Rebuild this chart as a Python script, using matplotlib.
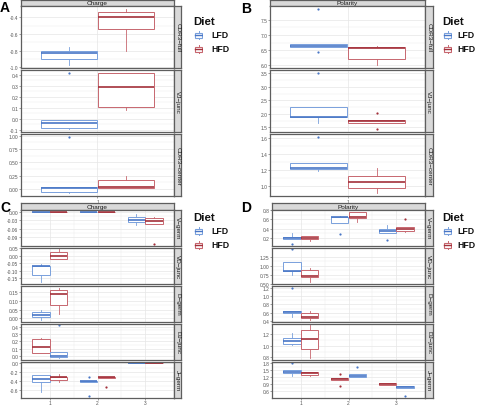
import matplotlib
matplotlib.use("Agg")
import matplotlib.pyplot as plt
from matplotlib.patches import Rectangle
from matplotlib.lines import Line2D
from matplotlib.ticker import FixedLocator

plt.rcParams["font.family"] = ["Liberation Sans", "DejaVu Sans"]

W, H, DPI = 479, 406, 100
fig = plt.figure(figsize=(W / DPI, H / DPI), dpi=DPI)
fig.patch.set_facecolor("white")

# ---------------- data ----------------
DIETS = ["LFD", "HFD"]
# box tuple: (category, diet, dodge slot, whislo, q1, median, q3, whishi, outliers)

# Panel A - Charge
A_cdr3_full = [
    (1, "LFD", 0, -0.977, -0.906, -0.829, -0.800, -0.758, []),
    (1, "HFD", 1, -0.808, -0.544, -0.400, -0.338, -0.297, []),
]
A_vj_junc = [
    (1, "LFD", 0, -0.097, -0.088, -0.044, -0.011, -0.011, [0.42]),
    (1, "HFD", 1, 0.080, 0.107, 0.290, 0.420, 0.420, []),
]
A_cdr3_center = [
    (1, "LFD", 0, -0.076, -0.050, 0.013, 0.044, 0.044, [0.98]),
    (1, "HFD", 1, 0.013, 0.013, 0.032, 0.170, 0.240, []),
]
# Panel B - Polarity
B_cdr3_full = [
    (1, "LFD", 0, 6.61, 6.61, 6.64, 6.69, 6.69, [7.855, 6.45]),
    (1, "HFD", 1, 6.01, 6.21, 6.585, 6.62, 6.64, []),
]
B_vj_junc = [
    (1, "LFD", 0, 1.65, 1.875, 1.90, 2.25, 2.25, [3.52]),
    (1, "HFD", 1, 1.65, 1.65, 1.74, 1.775, 1.775, [2.04, 1.43]),
]
B_cdr3_center = [
    (1, "LFD", 0, 1.19, 1.218, 1.23, 1.294, 1.294, [1.62]),
    (1, "HFD", 1, 0.905, 0.965, 1.053, 1.124, 1.23, []),
]
# Panel C - Charge by position
C_v_germ = [
    (1, "LFD", 0, 0, 0, 0, 0, 0, []),
    (1, "HFD", 1, 0, 0, 0, 0, 0, []),
    (2, "LFD", 0, 0, 0, 0, 0, 0, []),
    (2, "HFD", 1, 0, 0, 0, 0, 0, []),
    (3, "LFD", 0, -0.047, -0.038, -0.031, -0.018, -0.008, []),
    (3, "HFD", 1, -0.044, -0.044, -0.032, -0.022, -0.018, [-0.113]),
]
C_vd_junc = [
    (1, "LFD", 0, -0.178, -0.130, -0.071, -0.066, -0.055, []),
    (1, "HFD", 1, -0.024, -0.024, -0.001, 0.024, 0.045, []),
]
C_d_germ = [
    (1, "LFD", 0, -0.010, 0.006, 0.016, 0.034, 0.048, []),
    (1, "HFD", 1, 0.024, 0.076, 0.140, 0.166, 0.178, []),
]
C_dj_junc = [
    (1, "HFD", 0, 0.032, 0.032, 0.127, 0.225, 0.248, []),
    (1, "LFD", 1, -0.028, -0.010, 0.004, 0.056, 0.056, [0.42]),
]
C_j_germ = [
    (1, "LFD", 0, -0.65, -0.43, -0.35, -0.27, -0.27, []),
    (1, "HFD", 1, -0.41, -0.37, -0.32, -0.30, -0.24, []),
    (2, "LFD", 0, -0.42, -0.42, -0.40, -0.39, -0.39, [-0.32, -0.73]),
    (2, "HFD", 1, -0.325, -0.325, -0.31, -0.30, -0.30, [-0.53]),
    (3, "LFD", 0, 0, 0, 0, 0, 0, []),
    (3, "HFD", 1, 0, 0, 0, 0, 0, []),
]
# Panel D - Polarity by position
D_v_germ = [
    (1, "LFD", 0, 0.183, 0.183, 0.213, 0.234, 0.32, [0.077]),
    (1, "HFD", 1, 0.14, 0.176, 0.205, 0.255, 0.255, []),
    (2, "LFD", 0, 0.517, 0.517, 0.645, 0.645, 0.67, [0.29]),
    (2, "HFD", 1, 0.55, 0.64, 0.65, 0.766, 0.766, []),
    (3, "LFD", 0, 0.32, 0.32, 0.36, 0.40, 0.49, [0.16]),
    (3, "HFD", 1, 0.33, 0.36, 0.40, 0.44, 0.44, [0.60]),
]
D_vd_junc = [
    (1, "LFD", 0, 0.73, 0.84, 0.86, 1.095, 1.095, [1.46]),
    (1, "HFD", 1, 0.535, 0.67, 0.70, 0.87, 0.935, []),
]
D_d_germ = [
    (1, "LFD", 0, 0.506, 0.60, 0.62, 0.65, 0.65, [1.205]),
    (1, "HFD", 1, 0.43, 0.475, 0.506, 0.60, 0.64, []),
]
D_dj_junc = [
    (1, "LFD", 0, 1.02, 1.036, 1.084, 1.13, 1.23, []),
    (1, "HFD", 1, 0.79, 0.94, 1.11, 1.28, 1.36, []),
]
D_j_germ = [
    (1, "LFD", 0, 1.25, 1.37, 1.44, 1.51, 1.51, [1.80]),
    (1, "HFD", 1, 1.25, 1.31, 1.37, 1.40, 1.40, []),
    (2, "HFD", 0, 1.10, 1.10, 1.12, 1.145, 1.145, [1.34, 0.83]),
    (2, "LFD", 1, 1.20, 1.20, 1.24, 1.34, 1.34, [1.62]),
    (3, "HFD", 0, 0.88, 0.88, 0.91, 0.96, 0.96, []),
    (3, "LFD", 1, 0.74, 0.74, 0.78, 0.81, 0.81, [0.40]),
]

AB_facets = ["CDR3\u2212full", "VJ\u2212junc", "CDR3\u2212center"]
CD_facets = ["V\u2212germ", "VD\u2212junc", "D\u2212germ", "DJ\u2212junc", "J\u2212germ"]
A_ticks = [[-1.0, -0.8, -0.6, -0.4], [-0.1, 0.0, 0.1, 0.2, 0.3, 0.4], [0.0, 0.25, 0.5, 0.75, 1.0]]
A_fmt = ["{:.1f}", "{:.1f}", "{:.2f}"]
B_ticks = [[6.0, 6.5, 7.0, 7.5], [1.5, 2.0, 2.5, 3.0, 3.5], [1.0, 1.2, 1.4, 1.6]]
B_fmt = ["{:.1f}", "{:.1f}", "{:.1f}"]
C_ticks = [[-0.09, -0.06, -0.03, 0.0], [-0.15, -0.10, -0.05, 0.0, 0.05], [0.0, 0.05, 0.10, 0.15],
           [0.0, 0.1, 0.2, 0.3, 0.4], [-0.6, -0.4, -0.2, 0.0]]
C_fmt = ["{:.2f}", "{:.2f}", "{:.2f}", "{:.1f}", "{:.1f}"]
D_ticks = [[0.2, 0.4, 0.6, 0.8], [0.5, 0.75, 1.0, 1.25], [0.4, 0.6, 0.8, 1.0, 1.2],
           [0.8, 1.0, 1.2], [0.6, 0.9, 1.2, 1.5, 1.8]]
D_fmt = ["{:.1f}", "{:.2f}", "{:.1f}", "{:.1f}", "{:.1f}"]

# ---------------- style ----------------
EDGE = {"LFD": "#79A0DC", "HFD": "#C7676F"}
MED = {"LFD": "#4876C6", "HFD": "#A3303A"}
BORDER = "#5E5E5E"
GRID = "#E6E6E6"
TICKC = "#555555"


def px_axes(x0, y0, x1, y1):
    return fig.add_axes([x0 / W, 1 - y1 / H, (x1 - x0) / W, (y1 - y0) / H])


def draw_facet(ax, boxes, ticks, fmt, ncat, width, show_x):
    for (x, diet, slot, lo, q1, med, q3, hi, fl) in boxes:
        pos = x + (slot - 0.5) * width
        st = dict(whislo=lo, q1=q1, med=med, q3=q3, whishi=hi, fliers=fl)
        ax.bxp([st], positions=[pos], widths=width * 0.98, showcaps=False,
               patch_artist=True, manage_ticks=False,
               boxprops=dict(facecolor="white", edgecolor=EDGE[diet], linewidth=0.7),
               whiskerprops=dict(color=EDGE[diet], linewidth=0.6),
               medianprops=dict(color=MED[diet], linewidth=1.2, solid_capstyle="butt"),
               flierprops=dict(marker="o", markersize=1.6, markerfacecolor=MED[diet],
                               markeredgecolor="none"))
    vals = [v for b in boxes for v in b[3:8]] + [f for b in boxes for f in b[8]]
    lo, hi = min(vals), max(vals)
    pad = (hi - lo) * 0.05
    ax.set_ylim(lo - pad, hi + pad)
    ax.set_xlim(0.4, ncat + 0.6)
    ax.set_facecolor("white")
    ax.yaxis.set_major_locator(FixedLocator(ticks))
    ax.set_yticklabels([fmt.format(t) for t in ticks])
    mids = [(a + b) / 2 for a, b in zip(ticks[:-1], ticks[1:])]
    ax.yaxis.set_minor_locator(FixedLocator(mids))
    cats = list(range(1, ncat + 1))
    ax.set_xticks(cats)
    ax.set_xticks([c + 0.5 for c in cats[:-1]], minor=True)
    ax.grid(True, which="major", color=GRID, linewidth=0.5, zorder=0)
    ax.grid(True, which="minor", color=GRID, linewidth=0.25, zorder=0)
    ax.set_axisbelow(True)
    ax.tick_params(axis="both", which="major", length=1.3, width=0.4, color=TICKC,
                   labelsize=3.5, labelcolor=TICKC, pad=0.6)
    ax.tick_params(axis="both", which="minor", length=0)
    if show_x:
        ax.set_xticklabels([str(c) for c in cats])
    else:
        ax.set_xticklabels([])
        ax.tick_params(axis="x", which="major", length=0)
    for s in ax.spines.values():
        s.set_color(BORDER)
        s.set_linewidth(0.9)


def strip(x0, y0, x1, y1, text, rot):
    ax = px_axes(x0, y0, x1, y1)
    ax.set_xticks([])
    ax.set_yticks([])
    ax.set_facecolor("#D9D9D9")
    for s in ax.spines.values():
        s.set_color(BORDER)
        s.set_linewidth(0.9)
    ax.text(0.5, 0.5, text, transform=ax.transAxes, ha="center", va="center",
            rotation=rot, fontsize=4.6, color="#1A1A1A")


def legend(xk, xl, ytitle):
    fig.text((xk - 1) / W, 1 - ytitle / H, "Diet", fontsize=8.2, fontweight="bold",
             ha="left", va="center", color="#111111")
    for i, d in enumerate(DIETS):
        yc = ytitle + 14 + i * 14
        ax = px_axes(xk, yc - 5, xk + 9, yc + 5)
        ax.set_xlim(0, 1)
        ax.set_ylim(0, 1)
        ax.axis("off")
        ax.add_patch(Rectangle((0.1, 0.25), 0.8, 0.5, facecolor="white",
                               edgecolor=EDGE[d], linewidth=0.8))
        ax.add_line(Line2D([0.5, 0.5], [0.05, 0.25], color=EDGE[d], linewidth=0.7))
        ax.add_line(Line2D([0.5, 0.5], [0.75, 0.95], color=EDGE[d], linewidth=0.7))
        ax.add_line(Line2D([0.1, 0.9], [0.5, 0.5], color=MED[d], linewidth=1.0))
        fig.text(xl / W, 1 - yc / H, d, fontsize=6.3, fontweight="bold",
                 ha="left", va="center", color="#111111")


def panel(x0, x1, strip_top, rows, facets, datasets, ticks, fmts, ncat, width, title, letter,
          letter_xy, leg_x, leg_lx, leg_y):
    strip(x0, strip_top, x1, rows[0][0], title, 0)
    n = len(rows)
    for i, ((y0, y1), name, data, tk, fm) in enumerate(zip(rows, facets, datasets, ticks, fmts)):
        ax = px_axes(x0, y0, x1, y1)
        draw_facet(ax, data, tk, fm, ncat, width, i == n - 1)
        strip(x1, y0, x1 + 7.5, y1, name, -90)
    fig.text(letter_xy[0] / W, 1 - letter_xy[1] / H, letter, fontsize=10,
             fontweight="bold", ha="left", va="center", color="#000000")
    legend(leg_x, leg_lx, leg_y)


AB_rows = [(7, 69), (71, 133), (135, 197)]
CD_rows = [(211, 246.5), (248.5, 285), (287, 322.5), (324.5, 360.5), (362.5, 398.5)]

panel(21, 174, 0.5, AB_rows, AB_facets, [A_cdr3_full, A_vj_junc, A_cdr3_center],
      A_ticks, A_fmt, 1, 0.45, "Charge", "A", (0, 8), 194, 211, 22)
panel(270, 425, 0.5, AB_rows, AB_facets, [B_cdr3_full, B_vj_junc, B_cdr3_center],
      B_ticks, B_fmt, 1, 0.45, "Polarity", "B", (241, 9), 443, 457, 22)
panel(21, 174, 204, CD_rows, CD_facets, [C_v_germ, C_vd_junc, C_d_germ, C_dj_junc, C_j_germ],
      C_ticks, C_fmt, 3, 0.375, "Charge", "C", (0, 208), 194, 211, 218)
panel(272, 425, 204, CD_rows, CD_facets, [D_v_germ, D_vd_junc, D_d_germ, D_dj_junc, D_j_germ],
      D_ticks, D_fmt, 3, 0.375, "Polarity", "D", (241, 208), 443, 457, 218)

fig.savefig("out.png", dpi=DPI, facecolor="white")
